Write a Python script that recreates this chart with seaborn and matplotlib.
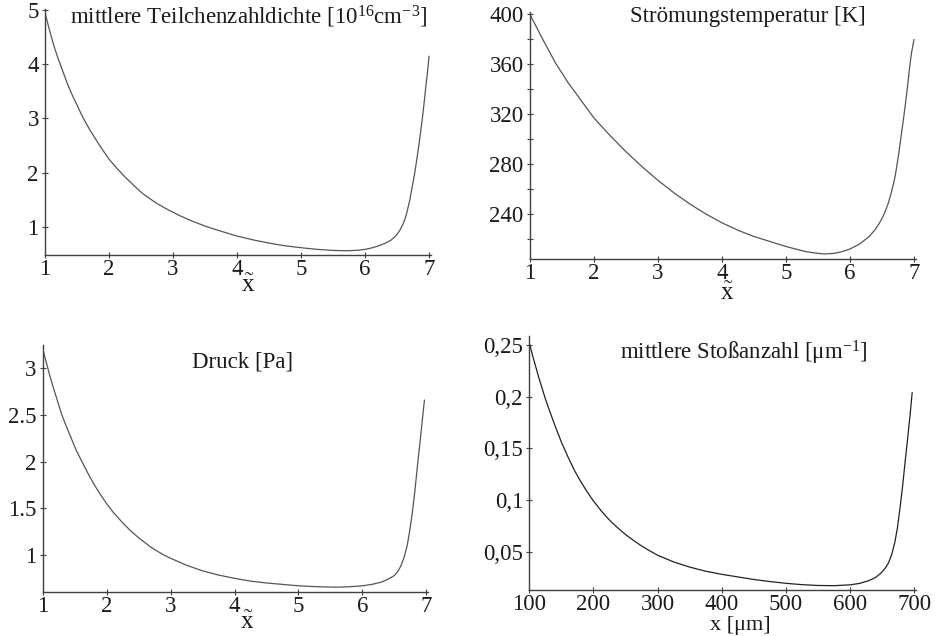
import numpy as np
import pandas as pd
import matplotlib
matplotlib.use("Agg")
import matplotlib.pyplot as plt
import seaborn as sns

# ---------------- data ----------------
dens_x = [1.0, 1.05, 1.1, 1.15, 1.2, 1.25, 1.3, 1.35, 1.4, 1.45, 1.5, 1.55, 1.6,
          1.7, 1.8, 1.9, 2.0, 2.1, 2.25, 2.4, 2.5, 2.6, 2.75, 2.9, 3.0, 3.1, 3.25,
          3.4, 3.5, 3.6, 3.75, 3.9, 4.0, 4.25, 4.5, 4.75, 5.0, 5.25, 5.5, 5.65,
          5.75, 5.9, 6.0, 6.1, 6.2, 6.3, 6.4, 6.45, 6.5, 6.55, 6.6, 6.62, 6.65,
          6.7, 6.73, 6.77, 6.8, 6.84, 6.87, 6.9, 6.93, 6.95, 6.975, 7.0]
dens_y = [4.95, 4.72, 4.50, 4.30, 4.12, 3.96, 3.80, 3.64, 3.50, 3.37, 3.25, 3.12,
          3.00, 2.79, 2.60, 2.42, 2.25, 2.11, 1.92, 1.75, 1.64, 1.55, 1.43, 1.33,
          1.27, 1.21, 1.13, 1.06, 1.015, 0.975, 0.92, 0.865, 0.83, 0.76, 0.70,
          0.65, 0.615, 0.585, 0.565, 0.56, 0.56, 0.57, 0.585, 0.61, 0.645, 0.69,
          0.75, 0.80, 0.86, 0.95, 1.07, 1.13, 1.25, 1.50, 1.70, 1.95, 2.18, 2.50,
          2.77, 3.05, 3.37, 3.60, 3.85, 4.15]

temp_x = [1.0, 1.1, 1.2, 1.3, 1.4, 1.5, 1.6, 1.7, 1.8, 1.9, 2.0, 2.25, 2.5, 2.75,
          3.0, 3.25, 3.5, 3.75, 4.0, 4.25, 4.5, 4.75, 5.0, 5.15, 5.3, 5.45, 5.6,
          5.75, 5.85, 6.0, 6.15, 6.3, 6.4, 6.45, 6.5, 6.55, 6.6, 6.65, 6.7, 6.72,
          6.76, 6.8, 6.84, 6.87, 6.9, 6.93, 6.96, 7.0]
temp_y = [400, 390, 380, 370.5, 361, 353, 345, 338, 331, 324, 317, 303, 290, 278,
          267, 257, 248, 240, 233, 227, 222, 218, 214, 212, 210, 208.8, 208,
          208.5, 209.5, 212, 216, 222, 228, 232, 236.5, 242, 249, 258, 269, 275,
          288, 303, 318, 330, 343, 357, 369, 380]

pres_x = [1.0, 1.05, 1.1, 1.15, 1.2, 1.25, 1.3, 1.375, 1.45, 1.525, 1.6, 1.7, 1.8,
          1.9, 2.0, 2.1, 2.25, 2.375, 2.5, 2.7, 2.88, 3.0, 3.25, 3.5, 3.75, 4.0,
          4.25, 4.5, 4.75, 5.0, 5.3, 5.6, 5.8, 6.0, 6.15, 6.3, 6.4, 6.5, 6.55,
          6.6, 6.65, 6.7, 6.74, 6.78, 6.82, 6.86, 6.9, 6.93, 6.97]
pres_y = [3.21, 3.08, 2.95, 2.83, 2.72, 2.61, 2.50, 2.37, 2.245, 2.12, 2.02, 1.885,
          1.76, 1.65, 1.55, 1.46, 1.345, 1.26, 1.185, 1.08, 1.005, 0.965, 0.89,
          0.83, 0.785, 0.75, 0.72, 0.70, 0.685, 0.67, 0.66, 0.655, 0.66, 0.67,
          0.685, 0.71, 0.74, 0.78, 0.82, 0.88, 0.97, 1.10, 1.26, 1.45, 1.68, 1.95,
          2.20, 2.40, 2.66]

coll_x = [100, 105, 110, 115, 120, 125, 130, 140, 150, 160, 170, 180, 190, 200,
          212, 225, 237, 250, 262, 275, 287, 300, 325, 350, 375, 400, 425, 450,
          475, 500, 525, 550, 575, 600, 615, 630, 640, 648, 655, 660, 665, 670,
          674, 678, 682, 686, 690, 694, 697]
coll_y = [0.252, 0.240, 0.229, 0.218, 0.208, 0.198, 0.189, 0.172, 0.156, 0.142,
          0.129, 0.118, 0.108, 0.099, 0.0895, 0.0805, 0.0735, 0.0665, 0.061,
          0.0555, 0.051, 0.0465, 0.040, 0.035, 0.031, 0.028, 0.0255, 0.023, 0.021,
          0.0193, 0.018, 0.0172, 0.0170, 0.0178, 0.0192, 0.022, 0.025, 0.029,
          0.034, 0.039, 0.047, 0.059, 0.073, 0.092, 0.113, 0.137, 0.160, 0.184,
          0.204]

xt_int = [1, 2, 3, 4, 5, 6, 7]
dens_yt = [1, 2, 3, 4, 5]
temp_yt = [240, 280, 320, 360, 400]
temp_minor = [220, 260, 300, 340, 380]
pres_yt = [1, 1.5, 2, 2.5, 3]
pres_ytl = ["1", "1.5", "2", "2.5", "3"]
coll_xt = [100, 200, 300, 400, 500, 600, 700]
coll_yt = [0.05, 0.1, 0.15, 0.2, 0.25]
coll_ytl = ["0,05", "0,1", "0,15", "0,2", "0,25"]

titles = ["mittlere Teilchenzahldichte [10$^{\\mathrm{16}}$cm$^{\\mathrm{-3}}$]",
          "Strömungstemperatur [K]",
          "Druck [Pa]",
          "mittlere Stoßanzahl [μm$^{\\mathrm{-1}}$]"]

# ---------------- style ----------------
sns.set_theme(style="ticks")
plt.rcParams["font.family"] = ["Liberation Serif", "DejaVu Serif"]
plt.rcParams["mathtext.fontset"] = "custom"
plt.rcParams["mathtext.rm"] = "Liberation Serif"
plt.rcParams["mathtext.it"] = "Liberation Serif:italic"

fig = plt.figure(figsize=(9.4, 6.36), dpi=100)
fig.patch.set_facecolor("white")

rects = [
    [0.0479, 0.599, 0.4106, 0.3868],
    [0.5638, 0.5928, 0.4106, 0.3884],
    [0.0454, 0.0697, 0.4102, 0.3879],
    [0.5631, 0.0723, 0.4114, 0.3994],
]
axes = [fig.add_axes(r) for r in rects]

spine_col = "#404040"
line_cols = ["#555555", "#555555", "#555555", "#222222"]

datasets = [(dens_x, dens_y), (temp_x, temp_y), (pres_x, pres_y), (coll_x, coll_y)]
for ax, (xs, ys), lc in zip(axes, datasets, line_cols):
    df = pd.DataFrame({"x": xs, "y": ys})
    sns.lineplot(data=df, x="x", y="y", ax=ax, color=lc, linewidth=0.9,
                 estimator=None, sort=True)
    ax.set_facecolor("white")
    for s in ["top", "right"]:
        ax.spines[s].set_visible(False)
    for s in ["left", "bottom"]:
        ax.spines[s].set_color(spine_col)
        ax.spines[s].set_linewidth(1.0)
    ax.tick_params(axis="both", which="both", direction="inout", length=5,
                   width=0.8, color=spine_col, labelsize=16.5, labelcolor="#1a1a1a")
    ax.tick_params(axis="x", pad=0.5)
    ax.tick_params(axis="y", pad=2)
    ax.set_ylabel("")
    ax.grid(False)

# panel 1
ax = axes[0]
ax.set_xlim(1, 7.03)
ax.set_ylim(0.48, 5.02)
ax.set_xticks(xt_int)
ax.set_yticks(dens_yt)
ax.set_xlabel("$\\mathrm{\\tilde{x}}$", fontsize=18)
ax.xaxis.set_label_coords(0.526, -0.125)

# panel 2
ax = axes[1]
ax.set_xlim(1, 7.03)
ax.set_ylim(204, 402)
ax.set_xticks(xt_int)
ax.set_yticks(temp_yt)
ax.set_yticks(temp_minor, minor=True)
ax.set_xlabel("$\\mathrm{\\tilde{x}}$", fontsize=18)
ax.xaxis.set_label_coords(0.51, -0.14)

# panel 3
ax = axes[2]
ax.set_xlim(1, 7.03)
ax.set_ylim(0.607, 3.25)
ax.set_xticks(xt_int)
ax.set_yticks(pres_yt)
ax.set_yticklabels(pres_ytl)
ax.set_xlabel("$\\mathrm{\\tilde{x}}$", fontsize=18)
ax.xaxis.set_label_coords(0.529, -0.125)

# panel 4
ax = axes[3]
ax.set_xlim(100, 703)
ax.set_ylim(0.0128, 0.2587)
ax.set_xticks(coll_xt)
ax.set_yticks(coll_yt)
ax.set_yticklabels(coll_ytl)
ax.set_xlabel("x [μm]", fontsize=16)
ax.xaxis.set_label_coords(0.545, -0.14)

for ax in axes:
    ax.xaxis.label.set_va("center")
    ax.xaxis.label.set_color("#1a1a1a")

title_pos = [(0.528, 0.967), (0.5635, 0.981), (0.519, 0.932), (0.5547, 0.932)]
for ax, t, (tx, ty) in zip(axes, titles, title_pos):
    ax.text(tx, ty, t, transform=ax.transAxes, ha="center", va="center",
            fontsize=16.5, color="#1a1a1a")

fig.savefig("out.png", dpi=100, facecolor="white")
